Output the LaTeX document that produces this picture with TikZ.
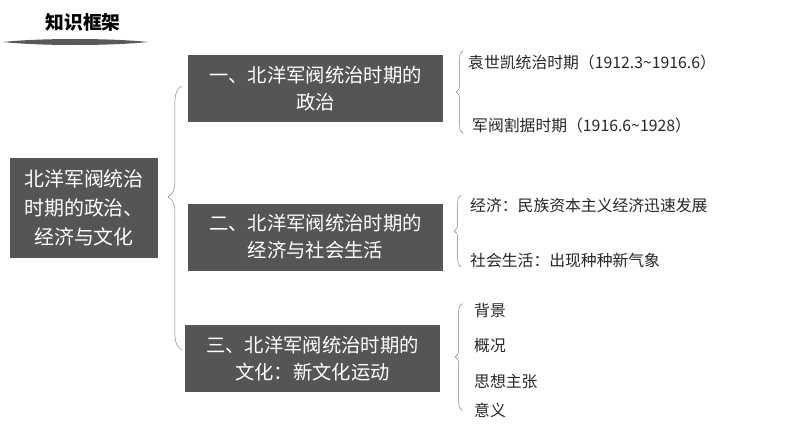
\documentclass[tikz,border=0pt]{standalone}
\usepackage{fontspec}
\setmainfont{Noto Sans CJK SC}
\usetikzlibrary{decorations.pathreplacing}
\definecolor{boxgray}{HTML}{555555}
\tikzset{
  darkbox/.style={fill=boxgray,text=white,align=center,inner sep=0pt,
    minimum width=7.65cm,minimum height=2.01cm,font=\fontsize{16.5}{23}\selectfont},
  leaf/.style={anchor=west,inner sep=0pt,font=\fontsize{13.5}{15}\selectfont,text=black!85},
  curly/.style={decorate,decoration={brace,amplitude=6pt,mirror},draw=gray,thin}
}
\begin{document}
\begin{tikzpicture}[x=0.03cm,y=-0.03cm]
  \useasboundingbox (0,0) rectangle (794,447);

  % Draw title
  \node (title) at (83,22) {\fontsize{16}{18}\selectfont\bfseries 知识框架};
  \fill[gray!70!black] (3,42) .. controls (40,38) and (110,38) .. (148,42)
        .. controls (110,46) and (40,46) .. (3,42);

  % Draw boxes
  \node[darkbox,minimum width=4.44cm,minimum height=3cm,font=\fontsize{17}{25}\selectfont] (main) at (84,208)
       {北洋军阀统治\\时期的政治、\\经济与文化};
  \node[darkbox] (pol) at (315.5,88.5) {一、北洋军阀统治时期的\\政治};
  \node[darkbox] (eco) at (315.5,237) {二、北洋军阀统治时期的\\经济与社会生活};
  \node[darkbox] (cul) at (312.5,358.5) {三、北洋军阀统治时期的\\文化：新文化运动};

  % Draw leaves
  \node[leaf] (yuan) at (468,62) {袁世凯统治时期（1912.3\textasciitilde1916.6）};
  \node[leaf] (jun) at (472,125) {军阀割据时期（1916.6\textasciitilde1928）};
  \node[leaf] (jj) at (470,205) {经济：民族资本主义经济迅速发展};
  \node[leaf] (sh) at (470,260) {社会生活：出现种种新气象};
  \node[leaf] (bj) at (474,310) {背景};
  \node[leaf] (gk) at (474,346) {概况};
  \node[leaf] (sx) at (474,382) {思想主张};
  \node[leaf] (yy) at (474,410) {意义};

  % Draw braces
  \coordinate (b0) at (182,86);   \coordinate (b1) at (182,350);
  \draw[curly,decoration={amplitude=12pt,aspect=0.42}] (b0) -- (b1);
  \draw[curly] (pol.east) ++(20,-38) coordinate (p0) -- ++(0,83);
  \draw[curly] (eco.east) ++(18,-42) coordinate (e0) -- ++(0,72);
  \draw[curly] (cul.east) ++(22,-55) coordinate (c0) -- ++(0,107);
\end{tikzpicture}
\end{document}
